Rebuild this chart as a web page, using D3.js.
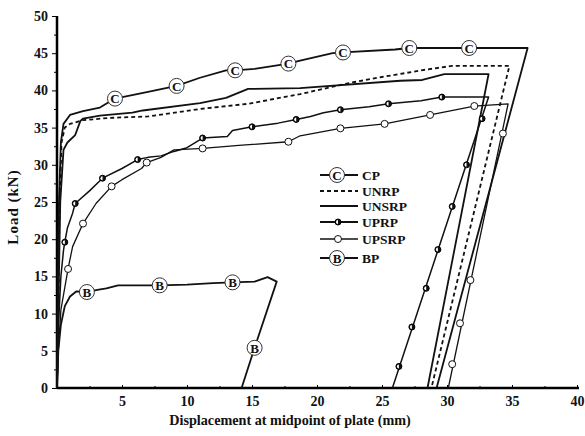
<!DOCTYPE html>
<html>
<head>
<meta charset="utf-8">
<script src="https://cdn.jsdelivr.net/npm/d3@7"></script>
<style>
body { margin: 0; background: #fff; }
svg text { font-family: "Liberation Serif", "Times New Roman", serif; font-weight: bold; fill: #111; }
</style>
</head>
<body>
<svg width="585" height="436"></svg>
<script>
var xTicks = [5, 10, 15, 20, 25, 30, 35, 40];
var yTicks = [0, 5, 10, 15, 20, 25, 30, 35, 40, 45, 50];

var legendNames = ["CP", "UNRP", "UNSRP", "UPRP", "UPSRP", "BP"];

var cpPts = [[0,0],[0.05,10],[0.15,25],[0.3,33],[0.5,35.5],[1,36.7],[2,37.2],[3.3,37.7],[4.46,38.9],[7,39.8],[9.2,40.6],[11,41.7],[13,42.7],[13.7,42.7],[15.2,42.9],[17.8,43.6],[18.7,44],[21.2,45],[22,45.1],[26,45.5],[27.1,45.7],[31.7,45.7],[36.2,45.7],[29.2,0]];
var cpMarks = [[4.46,38.9],[9.2,40.6],[13.7,42.7],[17.8,43.6],[22,45.1],[27.1,45.7],[31.7,45.7]];

var unrpPts = [[0,0],[0.1,10],[0.2,25],[0.35,33],[0.6,35],[1,35.5],[2,36],[4,36.3],[7,36.5],[11,37.5],[14.7,38.2],[18.7,39.5],[22.5,41],[25,41.8],[28.4,42.8],[30.4,43.3],[34.8,43.3],[28.8,0]];

var unsrpPts = [[0,0],[0.1,10],[0.25,25],[0.5,32],[0.8,33],[1.4,34],[1.8,35.9],[2,36.2],[3.3,36.6],[5.8,37],[6.6,37.3],[11,38.3],[13,39],[14.7,40.2],[18.7,40.3],[26.4,41.3],[28.1,41.4],[29.8,42.2],[33.2,42.2],[28.5,0]];

var uprpPts = [[0,0],[0.1,8],[0.3,15],[0.5,18.5],[0.6,19.6],[0.8,21.5],[1.2,23.5],[1.4,24.8],[2.5,26.5],[3.5,28.2],[5,29.5],[6.2,30.7],[7,31],[8,31.2],[9,31.8],[10,32.3],[11.2,33.6],[13.1,33.8],[13.5,34.6],[15,35.1],[17,35.6],[18.4,36.1],[19.5,36.5],[20.5,37],[21.8,37.4],[24,37.8],[25.5,38.2],[28,38.6],[29.6,39.1],[33.2,39.1],[25.8,0]];
var uprpMarks = [[0.6,19.6],[1.4,24.8],[3.5,28.2],[6.2,30.7],[11.2,33.6],[15,35.1],[18.4,36.1],[21.8,37.4],[25.5,38.2],[29.6,39.1],[32.7,36.2],[31.5,30],[30.4,24.4],[29.3,18.6],[28.4,13.4],[27.3,8.2],[26.3,2.9]];

var upsrpPts = [[0,0],[0.1,5],[0.3,10.5],[0.85,16],[1.2,19],[2,22.1],[3,24.8],[4.2,27.1],[5,28],[6.5,29.5],[6.9,30.3],[8,31],[9,32],[11.2,32.2],[14,32.6],[17.8,33.1],[18.7,33.9],[21.8,34.9],[25.2,35.5],[28.7,36.7],[32.1,37.9],[34.7,38.2],[30.1,0]];
var upsrpMarks = [[0.85,16],[2,22.1],[4.2,27.1],[6.9,30.3],[11.2,32.2],[17.8,33.1],[21.8,34.9],[25.2,35.5],[28.7,36.7],[32.1,37.9],[34.3,34.2],[31.8,14.5],[31,8.7],[30.4,3.2]];

var bpPts = [[0,0],[0.1,5],[0.3,8.5],[0.6,11],[1,12.3],[1.5,13],[2.3,12.9],[3.1,13.2],[3.8,13.4],[4.7,13.8],[7.9,13.8],[10,13.9],[12,14.1],[13.5,14.2],[15.2,14.3],[16.2,14.9],[16.9,14.3],[15.2,5.4],[14.2,0]];
var bpMarks = [[2.3,12.9],[7.9,13.8],[13.5,14.2],[15.2,5.4]];

var svg = d3.select("svg");

var x = d3.scaleLinear().domain([0, 40]).range([57, 577]);
var y = d3.scaleLinear().domain([0, 50]).range([388, 16]);

var line = d3.line()
    .x(function(d) { return x(d[0]); })
    .y(function(d) { return y(d[1]); });

// axes
var yAxis = svg.append("g")
    .attr("transform", "translate(57,0)")
    .call(d3.axisLeft(y).tickValues(yTicks).tickSize(5).tickPadding(4));
yAxis.select(".domain").attr("stroke-width", 2.5).attr("d", "M0," + y(0) + "V" + y(50));
yAxis.selectAll("text").attr("font-size", 14);

svg.append("g")
    .attr("transform", "translate(57,0)")
    .call(d3.axisLeft(y).tickValues(d3.range(2.5, 50, 5)).tickSize(3).tickFormat(""))
    .select(".domain").remove();

var xAxis = svg.append("g")
    .attr("transform", "translate(0,388)")
    .call(d3.axisBottom(x).tickValues(xTicks).tickSize(-3).tickPadding(8));
xAxis.select(".domain").attr("stroke-width", 2.5).attr("d", "M" + x(0) + ",0H" + (x(40) + 2));
xAxis.selectAll("text").attr("font-size", 14);

svg.append("g")
    .attr("transform", "translate(0,388)")
    .call(d3.axisBottom(x).tickValues(d3.range(2.5, 40, 5)).tickSize(-2).tickFormat(""))
    .select(".domain").remove();

svg.append("text")
    .attr("x", 290).attr("y", 425)
    .attr("text-anchor", "middle")
    .attr("font-size", 14.2)
    .text("Displacement at midpoint of plate (mm)");

svg.append("text")
    .attr("transform", "translate(18,207) rotate(-90)")
    .attr("text-anchor", "middle")
    .attr("font-size", 15)
    .attr("letter-spacing", 1)
    .text("Load (kN)");

// curves
function drawLine(pts, w, dash)
{
    svg.append("path")
	.attr("d", line(pts))
	.attr("fill", "none")
	.attr("stroke", "#111")
	.attr("stroke-width", w)
	.attr("stroke-linejoin", "round")
	.attr("stroke-dasharray", dash || null);
}

function letterMark(g, cx, cy, ch)
{
    g.append("circle")
	.attr("cx", cx).attr("cy", cy).attr("r", 7.5)
	.attr("fill", "#fff").attr("stroke", "#333").attr("stroke-width", 1);
    g.append("text")
	.attr("x", cx).attr("y", cy + 4.8)
	.attr("text-anchor", "middle")
	.attr("font-size", 13)
	.attr("font-weight", "normal")
	.text(ch);
}

function dotMark(g, cx, cy)
{
    g.append("circle")
	.attr("cx", cx).attr("cy", cy).attr("r", 3)
	.attr("fill", "#111").attr("stroke", "#000").attr("stroke-width", 1);
    g.append("path")
	.attr("d", "M" + cx + "," + (cy - 2) + "A2,2 0 0,0 " + cx + "," + (cy + 2) + "Z")
	.attr("fill", "#fff");
}

function ringMark(g, cx, cy)
{
    g.append("circle")
	.attr("cx", cx).attr("cy", cy).attr("r", 3.5)
	.attr("fill", "#fff").attr("stroke", "#111").attr("stroke-width", 1);
}

drawLine(cpPts, 1.8);
drawLine(unrpPts, 1.8, "4,3");
drawLine(unsrpPts, 1.8);
drawLine(uprpPts, 1.5);
drawLine(upsrpPts, 1.3);
drawLine(bpPts, 1.8);

var marks = svg.append("g");
cpMarks.forEach(function(d) { letterMark(marks, x(d[0]), y(d[1]), "C"); });
bpMarks.forEach(function(d) { letterMark(marks, x(d[0]), y(d[1]), "B"); });
uprpMarks.forEach(function(d) { dotMark(marks, x(d[0]), y(d[1])); });
upsrpMarks.forEach(function(d) { ringMark(marks, x(d[0]), y(d[1])); });

// legend
var legY = [175, 191, 206, 222, 239, 258];
var leg = svg.append("g");
legendNames.forEach(function(name, i)
		    {
			var ly = legY[i];
			leg.append("line")
			    .attr("x1", 320).attr("x2", 358)
			    .attr("y1", ly).attr("y2", ly)
			    .attr("stroke", "#111")
			    .attr("stroke-width", i == 4 ? 1.3 : 2)
			    .attr("stroke-dasharray", i == 1 ? "4,3" : null);
			if (name == "CP") letterMark(leg, 337, ly, "C");
			if (name == "BP") letterMark(leg, 337, ly, "B");
			if (name == "UPRP") dotMark(leg, 338, ly);
			if (name == "UPSRP") ringMark(leg, 338, ly);
			leg.append("text")
			    .attr("x", 362).attr("y", ly + 5)
			    .attr("font-size", 13.5)
			    .text(name);
		    });
</script>
</body>
</html>
